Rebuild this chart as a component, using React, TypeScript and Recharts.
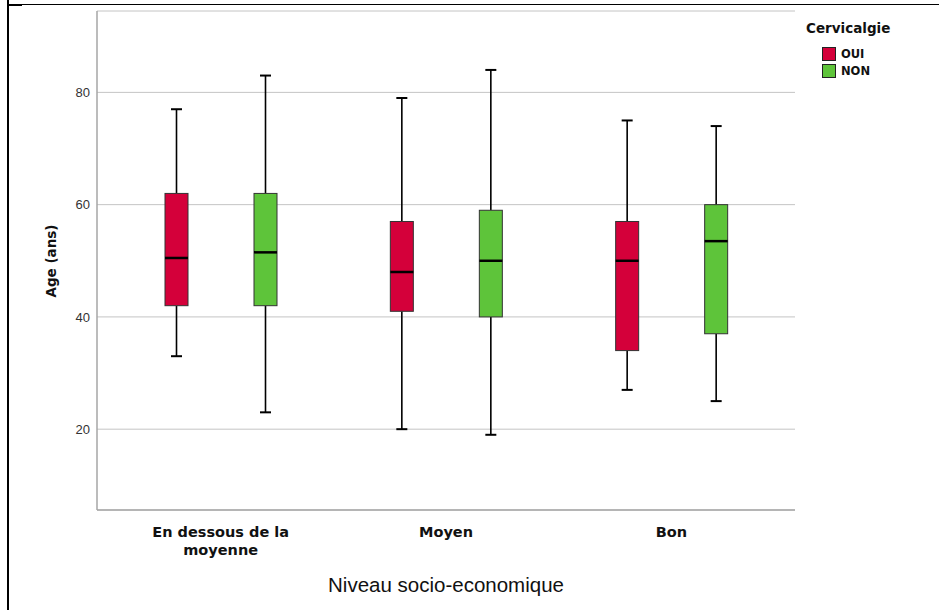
import React from 'react';
import { ComposedChart, Bar, XAxis, YAxis, CartesianGrid } from 'recharts';

const categories = ['En dessous de la moyenne', 'Moyen', 'Bon'];
const tickLines: Record<string, string[]> = {
  'En dessous de la moyenne': ['En dessous de la', 'moyenne'],
  Moyen: ['Moyen'],
  Bon: ['Bon'],
};

const ouiMin = [33, 20, 27];
const ouiQ1 = [42, 41, 34];
const ouiMedian = [50.5, 48, 50];
const ouiQ3 = [62, 57, 57];
const ouiMax = [77, 79, 75];

const nonMin = [23, 19, 25];
const nonQ1 = [42, 40, 37];
const nonMedian = [51.5, 50, 53.5];
const nonQ3 = [62, 59, 60];
const nonMax = [83, 84, 74];

const yTicks = [20, 40, 60, 80];

const legendItems = [
  { label: 'OUI', color: '#d4003a' },
  { label: 'NON', color: '#5ec43a' },
];
const RED = legendItems[0].color;
const GREEN = legendItems[1].color;

const BOLD_FONT = "'DejaVu Sans', Lato, sans-serif";

const data = categories.map((c, i) => ({
  name: c,
  ouiRange: [ouiMin[i], ouiMax[i]],
  oui: { min: ouiMin[i], q1: ouiQ1[i], med: ouiMedian[i], q3: ouiQ3[i], max: ouiMax[i] },
  nonRange: [nonMin[i], nonMax[i]],
  non: { min: nonMin[i], q1: nonQ1[i], med: nonMedian[i], q3: nonQ3[i], max: nonMax[i] },
}));

const makeBoxShape = (key: 'oui' | 'non', color: string) => (props: any) => {
  const { x, y, width, height, payload } = props;
  const s = payload[key];
  const top = Math.min(y, y + height);
  const bottom = Math.max(y, y + height);
  const px = (v: number) => bottom - ((v - s.min) / (s.max - s.min)) * (bottom - top);
  const cx = x + width / 2;
  const capHalf = 5.5;
  return (
    <g>
      <line x1={cx} x2={cx} y1={px(s.max)} y2={px(s.q3)} stroke="#000" strokeWidth={1.6} />
      <line x1={cx} x2={cx} y1={px(s.q1)} y2={px(s.min)} stroke="#000" strokeWidth={1.6} />
      <line x1={cx - capHalf} x2={cx + capHalf} y1={px(s.max)} y2={px(s.max)} stroke="#000" strokeWidth={2} />
      <line x1={cx - capHalf} x2={cx + capHalf} y1={px(s.min)} y2={px(s.min)} stroke="#000" strokeWidth={2} />
      <rect x={x} y={px(s.q3)} width={width} height={px(s.q1) - px(s.q3)} fill={color} stroke="#333" strokeWidth={1} />
      <line x1={x} x2={x + width} y1={px(s.med)} y2={px(s.med)} stroke="#000" strokeWidth={2.5} />
    </g>
  );
};

const XTick = (props: any) => {
  const { x, y, payload } = props;
  const lines = tickLines[payload.value] || [payload.value];
  return (
    <g>
      {lines.map((l, i) => (
        <text
          key={i}
          x={x}
          y={y + 25 + i * 18}
          textAnchor="middle"
          fontFamily={BOLD_FONT}
          fontWeight={700}
          fontSize={14.5}
          fill="#111"
        >
          {l}
        </text>
      ))}
    </g>
  );
};

export default function App() {
  return (
    <div style={{ position: 'absolute', left: 0, top: 0, width: 939, height: 610, background: '#fff' }}>
      <div style={{ position: 'absolute', left: 7, top: 4, width: 932, height: 1, background: '#000' }} />
      <div style={{ position: 'absolute', left: 7, top: 4, width: 15, height: 2, background: '#000' }} />
      <div style={{ position: 'absolute', left: 7, top: 0, width: 2, height: 610, background: '#000' }} />
      <ComposedChart
        width={939}
        height={610}
        data={data}
        margin={{ top: 11, right: 144, bottom: 70, left: 0 }}
        barGap={66}
      >
        <CartesianGrid vertical={false} stroke="#c4c4c4" strokeWidth={1} />
        <XAxis
          dataKey="name"
          height={30}
          padding={{ left: 11, right: 11 }}
          tickLine={false}
          tickSize={0}
          axisLine={{ stroke: '#a6a6a6', strokeWidth: 1.5 }}
          tick={<XTick />}
          interval={0}
        />
        <YAxis
          width={97}
          domain={[5.6, 94.5]}
          ticks={yTicks}
          allowDataOverflow
          tickLine={false}
          tickSize={0}
          tickMargin={7}
          axisLine={{ stroke: '#a6a6a6', strokeWidth: 1.5 }}
          tick={{ fill: '#333', fontSize: 13, fontFamily: "'Liberation Sans', Arial, sans-serif" }}
        />
        <Bar
          dataKey="ouiRange"
          name="OUI"
          fill={RED}
          barSize={23}
          isAnimationActive={false}
          shape={makeBoxShape('oui', RED)}
        />
        <Bar
          dataKey="nonRange"
          name="NON"
          fill={GREEN}
          barSize={23}
          isAnimationActive={false}
          shape={makeBoxShape('non', GREEN)}
        />
      </ComposedChart>
      <div
        style={{
          position: 'absolute',
          left: 806,
          top: 19,
          fontFamily: BOLD_FONT,
          fontWeight: 700,
          color: '#111',
        }}
      >
        <div style={{ fontSize: 13.5, lineHeight: '18px', marginBottom: 8 }}>Cervicalgie</div>
        {legendItems.map((it) => (
          <div key={it.label} style={{ display: 'flex', alignItems: 'center', marginLeft: 16, height: 17 }}>
            <div
              style={{
                width: 12,
                height: 12,
                background: it.color,
                border: '1.5px solid #222',
                marginRight: 5,
              }}
            />
            <span style={{ fontSize: 11.5 }}>{it.label}</span>
          </div>
        ))}
      </div>
      <div
        style={{
          position: 'absolute',
          left: 51,
          top: 261,
          transform: 'translate(-50%, -50%) rotate(-90deg)',
          fontFamily: BOLD_FONT,
          fontWeight: 700,
          fontSize: 13.5,
          color: '#111',
          whiteSpace: 'nowrap',
        }}
      >
        Age (ans)
      </div>
      <div
        style={{
          position: 'absolute',
          left: 446,
          top: 585,
          transform: 'translate(-50%, -50%)',
          fontFamily: "'Liberation Sans', Arial, sans-serif",
          fontSize: 20.5,
          color: '#111',
          whiteSpace: 'nowrap',
        }}
      >
        Niveau socio-economique
      </div>
    </div>
  );
}
